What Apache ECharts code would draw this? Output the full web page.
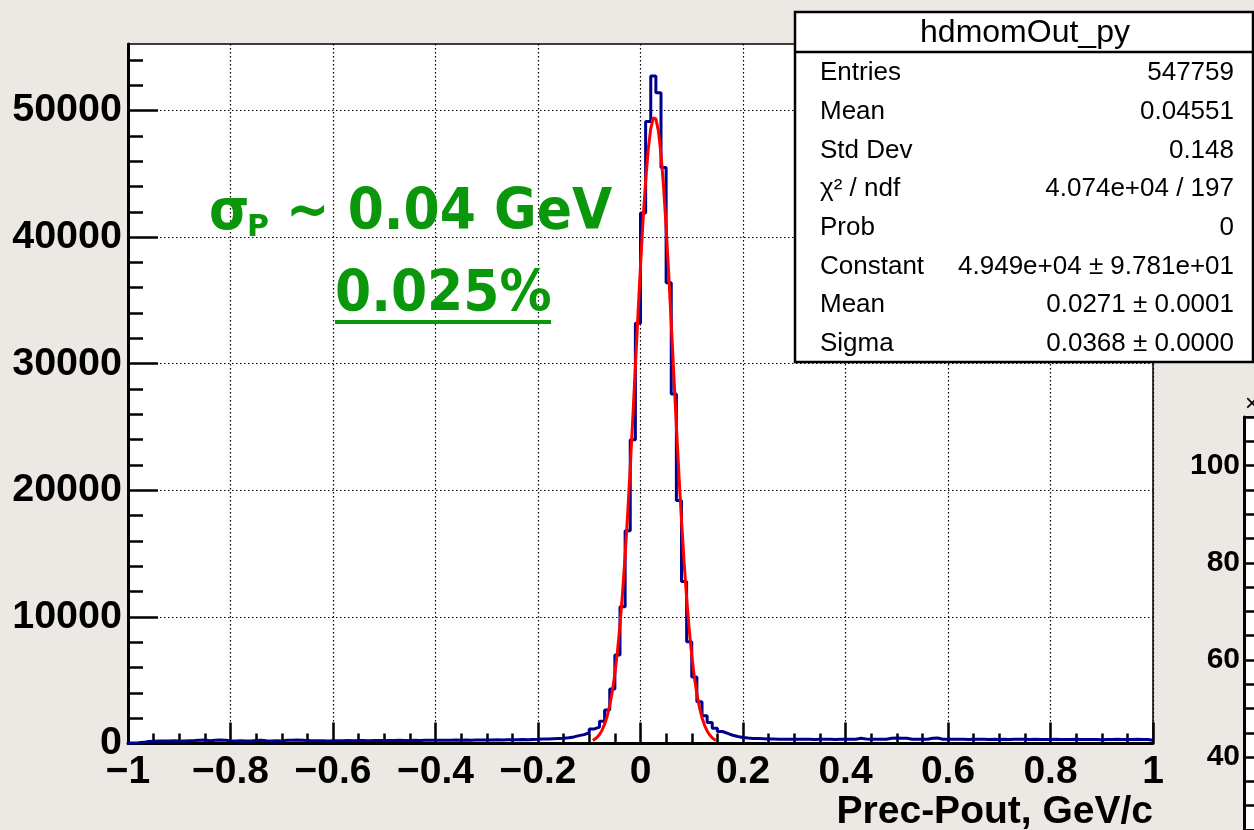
<!DOCTYPE html>
<html><head><meta charset="utf-8">
<script src="https://cdn.jsdelivr.net/npm/echarts@6/dist/echarts.min.js"></script>
<style>html,body{margin:0;padding:0;background:#ece9e5;} #c{width:1254px;height:830px;}</style>
</head><body><div id="c"></div>
<script>
// ---------------- data ----------------
const binLow = -1;
const binWidth = 0.01;
const binCounts = [
  40, 60, 90, 150, 180, 190, 200, 190, 210, 200,
  190, 210, 230, 260, 270, 220, 260, 270, 250, 210,
  200, 210, 200, 190, 240, 250, 220, 200, 210, 200,
  250, 260, 270, 250, 230, 210, 220, 210, 200, 220,
  210, 220, 230, 220, 240, 230, 220, 230, 240, 230,
  240, 230, 250, 240, 230, 250, 240, 250, 260, 250,
  250, 260, 250, 270, 260, 270, 260, 280, 270, 280,
  280, 290, 280, 300, 290, 300, 310, 300, 320, 330,
  350, 350, 380, 400, 420, 450, 520, 620, 700, 850,
  1150, 1300, 1750, 2650, 4300, 7000, 10800, 16800, 24000, 33200,
  41900, 49130, 52720, 51400, 45490, 36400, 27600, 19200, 12800, 8040,
  5250, 3300, 2200, 1650, 1200, 950, 800, 650, 550, 480,
  430, 400, 390, 380, 360, 350, 340, 340, 330, 340,
  330, 340, 330, 320, 330, 340, 330, 320, 330, 340,
  330, 340, 420, 350, 340, 330, 340, 330, 420, 430,
  420, 410, 340, 330, 340, 330, 420, 430, 340, 330,
  330, 340, 330, 320, 330, 340, 330, 320, 330, 320,
  330, 320, 330, 340, 330, 320, 330, 320, 310, 320,
  330, 320, 310, 320, 330, 320, 310, 320, 310, 300,
  310, 320, 330, 320, 310, 320, 330, 320, 310, 250
];
// red fit curve (Gaussian fit drawn by ROOT)
const fitX = [-0.093, -0.09, -0.085, -0.08, -0.075, -0.07, -0.065, -0.06, -0.055, -0.05,
  -0.045, -0.04, -0.035, -0.03, -0.025, -0.02, -0.015, -0.01, -0.005, 0,
  0.005, 0.01, 0.015, 0.02, 0.025, 0.0271, 0.03, 0.035, 0.04, 0.045,
  0.05, 0.055, 0.06, 0.065, 0.07, 0.075, 0.08, 0.085, 0.09, 0.095,
  0.1, 0.105, 0.11, 0.115, 0.12, 0.125, 0.13, 0.135, 0.14, 0.145, 0.147];
const fitY = [243, 313, 478, 717, 1054, 1523, 2158, 3007, 4109, 5513,
  7261, 9387, 11918, 14849, 18168, 21818, 25720, 29773, 33832, 37734,
  41330, 44425, 46888, 48577, 49410, 49490, 49337, 48364, 46541, 43968,
  40779, 37127, 33187, 29120, 25085, 21215, 17612, 14353, 11486, 9023,
  6955, 5265, 3914, 2856, 2044, 1439, 992, 673, 447, 292, 245];
const yTicks = [0, 10000, 20000, 30000, 40000, 50000];
const yMinorTicks = [2000,4000,6000,8000,12000,14000,16000,18000,22000,24000,26000,28000,32000,34000,36000,38000,42000,44000,46000,48000,52000,54000];
const y2Ticks = [40, 60, 80, 100];
const statsTitle = 'hdmomOut_py';
const statsLabels = ['Entries', 'Mean', 'Std Dev', 'χ² / ndf', 'Prob', 'Constant', 'Mean', 'Sigma'];
const statsValues = ['547759', '0.04551', '0.148', '4.074e+04 / 197', '0', '4.949e+04 ± 9.781e+01', '0.0271 ± 0.0001', '0.0368 ± 0.0000'];
const xTitle = 'Prec-Pout, GeV/c';

// ---------------- chart ----------------
const FONT = "'Liberation Sans', Arial, Helvetica, sans-serif";
const GFONT = "'Comic Sans MS', 'DejaVu Sans', sans-serif";
const GREEN = '#0b970b';
const histData = binCounts.map((v, i) => [+(binLow + i * binWidth).toFixed(2), v]);
histData.push([+(binLow + binCounts.length * binWidth).toFixed(2), binCounts[binCounts.length - 1]]);
const fitData = fitX.map((x, i) => [x, fitY[i]]);
const fmtX = v => { const r = Math.round(v * 10) / 10; return r < 0 ? '\u2212' + String(-r) : String(r); };
const dotted = { show: true, lineStyle: { color: '#000', width: 1.2, type: [1.5, 2.5] } };
const tickStyle = { color: '#000', width: 2.5 };

const chart = echarts.init(document.getElementById('c'));
const graphics = [];
// stats box
graphics.push({ type: 'rect', z: 100, shape: { x: 795, y: 12, width: 458, height: 350 }, style: { fill: '#fff', stroke: '#000', lineWidth: 2.5 } });
graphics.push({ type: 'line', z: 101, shape: { x1: 795, y1: 52, x2: 1253, y2: 52 }, style: { stroke: '#000', lineWidth: 2.5 } });
graphics.push({ type: 'text', z: 101, x: 1025, y: 33, style: { text: statsTitle, textAlign: 'center', textVerticalAlign: 'middle', font: `32px ${FONT}`, fill: '#000' } });
statsLabels.forEach((lab, i) => {
  const yy = 73 + i * 38.7;
  graphics.push({ type: 'text', z: 101, x: 820, y: yy, style: { text: lab, textAlign: 'left', textVerticalAlign: 'middle', font: `26px ${FONT}`, fill: '#000' } });
  graphics.push({ type: 'text', z: 101, x: 1234, y: yy, style: { text: statsValues[i], textAlign: 'right', textVerticalAlign: 'middle', font: `26px ${FONT}`, fill: '#000' } });
});
// green annotation
graphics.push({ type: 'text', z: 50, x: 209, y: 214, scaleY: 1.1, style: { text: 'σ', textVerticalAlign: 'middle', font: `bold 52px ${GFONT}`, fill: GREEN } });
graphics.push({ type: 'text', z: 50, x: 247, y: 228, style: { text: 'P', textVerticalAlign: 'middle', font: `bold 30px ${GFONT}`, fill: GREEN } });
graphics.push({ type: 'text', z: 50, x: 286, y: 214, scaleY: 1.1, style: { text: '~ 0.04 GeV', textVerticalAlign: 'middle', font: `bold 52px ${GFONT}`, fill: GREEN } });
graphics.push({ type: 'text', z: 50, x: 335, y: 296, scaleY: 1.1, style: { text: '0.025%', textVerticalAlign: 'middle', font: `bold 52px ${GFONT}`, fill: GREEN } });
graphics.push({ type: 'line', z: 50, shape: { x1: 335, y1: 322, x2: 551, y2: 322 }, style: { stroke: GREEN, lineWidth: 4 } });
// axis title
graphics.push({ type: 'text', z: 50, x: 1153, y: 812, style: { text: xTitle, textAlign: 'right', textVerticalAlign: 'middle', font: `bold 39px ${FONT}`, fill: '#000' } });
// neighbouring panel multiplier
graphics.push({ type: 'text', z: 50, x: 1245, y: 404, style: { text: '×10³', textAlign: 'left', textVerticalAlign: 'middle', font: `24px ${FONT}`, fill: '#000' } });

chart.setOption({
  animation: false,
  backgroundColor: 'transparent',
  grid: [
    { left: 128, right: 101, top: 44, bottom: 86.5, show: true, backgroundColor: '#fff', borderColor: '#000', borderWidth: 1.5 },
    { left: 1244, right: -200, top: 417, bottom: 0, show: true, backgroundColor: '#fff', borderColor: '#000', borderWidth: 1.5 }
  ],
  xAxis: [
    { type: 'value', gridIndex: 0, min: -1, max: 1, interval: 0.2,
      axisLine: { show: true, onZero: false, lineStyle: { color: '#000', width: 3 } },
      axisTick: { show: true, inside: true, length: 21, lineStyle: tickStyle },
      minorTick: { show: true, splitNumber: 4, length: 10, lineStyle: tickStyle },
      splitLine: dotted,
      axisLabel: { margin: 9, color: '#000', fontFamily: FONT, fontWeight: 'bold', fontSize: 39, formatter: fmtX } },
    { type: 'value', gridIndex: 1, min: 0, max: 1, show: false }
  ],
  yAxis: [
    { type: 'value', gridIndex: 0, min: 0, max: 55250, interval: 10000,
      axisLine: { show: true, onZero: false, lineStyle: { color: '#000', width: 3 } },
      axisTick: { show: true, inside: true, length: 30, lineStyle: tickStyle, customValues: yTicks },
      minorTick: { show: false },
      splitLine: dotted,
      axisLabel: { margin: 6, color: '#000', fontFamily: FONT, fontWeight: 'bold', fontSize: 39.5, customValues: yTicks,
        formatter: v => (v % 10000 === 0 ? String(v) : '') } },
    { type: 'value', gridIndex: 0, position: 'left', min: 0, max: 55250, interval: 2000,
      axisLine: { show: false, onZero: false }, splitLine: { show: false }, axisLabel: { show: false },
      axisTick: { show: true, inside: true, length: 15, lineStyle: tickStyle, customValues: yMinorTicks } },
    { type: 'value', gridIndex: 1, min: 25, max: 110, interval: 5,
      axisLine: { show: true, onZero: false, lineStyle: { color: '#000', width: 3 } },
      axisTick: { show: true, inside: true, length: 13, lineStyle: tickStyle },
      splitLine: { show: false },
      axisLabel: { margin: 4, color: '#000', fontFamily: FONT, fontWeight: 'bold', fontSize: 30, customValues: y2Ticks,
        formatter: v => (v % 20 === 0 ? String(v) : '') } }
  ],
  series: [
    { name: 'hdmomOut_py', type: 'line', xAxisIndex: 0, yAxisIndex: 0, step: 'end', data: histData,
      showSymbol: false, symbol: 'none', lineStyle: { color: '#00008f', width: 3 }, z: 3 },
    { name: 'gaus', type: 'line', xAxisIndex: 0, yAxisIndex: 0, data: fitData,
      showSymbol: false, symbol: 'none', lineStyle: { color: '#ff0000', width: 3 }, z: 4 }
  ],
  graphic: graphics
});
</script>
</body></html>
